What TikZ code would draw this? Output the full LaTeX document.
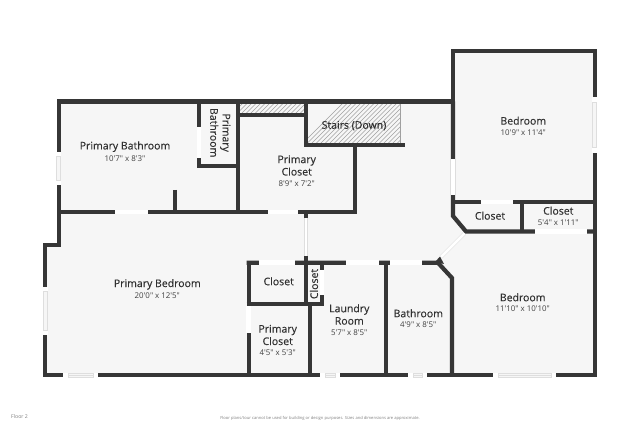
\documentclass[tikz,border=0pt]{standalone}
\usepackage{fontspec}
\newfontfamily\fp{Open Sans}
\newfontfamily\fpm[FakeBold=0.25]{Open Sans}
\definecolor{wallc}{HTML}{363636}
\definecolor{floorc}{HTML}{F6F6F6}
\definecolor{edgec}{HTML}{DEDEDE}
\definecolor{hatchc}{HTML}{A0A0A0}
\definecolor{textc}{HTML}{303030}
\definecolor{dimc}{HTML}{404040}
\tikzset{
  wall/.style={draw=wallc,line width=4.2pt,line join=miter},
  doorway/.style={draw=white,line width=4.8pt},
  swing/.style={draw=edgec,double=white,double distance=2.6pt,line width=.5pt},
  pane/.style={draw=edgec,fill=floorc,line width=.6pt},
  room/.style={font=\fpm\fontsize{10.5}{12.4}\selectfont,text=textc,align=center,inner sep=0pt},
  size/.style={font=\fp\fontsize{7.9}{9}\selectfont,text=dimc,align=center,inner sep=0pt},
  hatching/.style={draw=hatchc,line width=.6pt}
}
% horizontal window: x1 x2 y
\newcommand{\winH}[3]{%
  \fill[white] (#1,#3-2.5) rectangle (#2,#3+2.5);
  \draw[pane] (#1+5,#3-2) rectangle (#2-5,#3+2);
  \draw[edgec,line width=.5pt] (#1+5,#3) -- (#2-5,#3);}
% vertical window: y1 y2 x
\newcommand{\winV}[3]{%
  \fill[white] (#3-2.5,#1) rectangle (#3+2.5,#2);
  \draw[pane] (#3-2,#1+5) rectangle (#3+2,#2-5);}
\begin{document}
\begin{tikzpicture}[x=1pt,y=-1pt]
\useasboundingbox (0,0) rectangle (640,427);
\fill[white] (0,0) rectangle (640,427);
% floor
\fill[floorc] (58.7,101.5) -- (453,101.5) -- (453,51.3) -- (594.7,51.3) -- (594.7,375.3) -- (45.3,375.3) -- (45.3,245.3) -- (58.7,245.3) -- cycle;
% hatched areas
\begin{scope}
\clip (240,103) rectangle (304,113);
\foreach \i in {0,4.5,...,105} \draw[hatching] (230+\i,116) -- (230+\i+16,100);
\end{scope}
\begin{scope}
\clip (308,103) rectangle (400.7,143.5);
\foreach \i in {0,4.5,...,150} \draw[hatching] (300+\i,146) -- (300+\i+46,100);
\end{scope}
\draw[hatchc,line width=.6pt] (400.7,103) -- (400.7,143.5);
% walls
\draw[wall] (58.7,101.5) -- (453,101.5) -- (453,51.3) -- (594.7,51.3) -- (594.7,375.3) -- (45.3,375.3) -- (45.3,245.3) -- (58.7,245.3) -- cycle;
\draw[wall] (58.7,212) -- (355.2,212) -- (355.2,145.3);
\draw[wall] (306,145.3) -- (405,145.3);
\draw[wall] (306,101.5) -- (306,147.3);
\draw[wall] (238,101.5) -- (238,214);
\draw[wall] (238,114.7) -- (308,114.7);
\draw[wall] (199,101.5) -- (199,166) -- (240,166);
\draw[wall] (174.7,190) -- (174.7,212);
\draw[wall] (306,212) -- (306,218);
\draw[wall] (453,101.5) -- (453,216) -- (466,231.5) -- (594.7,231.5);
\draw[wall] (453,202) -- (594.7,202);
\draw[wall] (522,202) -- (522,231.5);
\draw[wall] (246.7,262.8) -- (438,262.8) -- (452,278) -- (452,375.3);
\draw[wall] (248.7,262.8) -- (248.7,375.3);
\draw[wall] (246.7,304) -- (324,304);
\draw[wall] (306,256) -- (306,304);
\draw[wall] (322,262.8) -- (322,304);
\draw[wall] (310,304) -- (310,375.3);
\draw[wall] (386,262.8) -- (386,375.3);
\fill[wallc] (435,262) -- (440,256.5) -- (444,264) -- cycle;
% doorways
\draw[doorway] (115,212) -- (148,212);
\draw[doorway] (199,126.7) -- (199,158.3);
\draw[doorway] (268.3,212) -- (297.7,212);
\draw[doorway] (453,159.3) -- (453,195);
\draw[doorway] (480.7,202) -- (512.7,202);
\draw[doorway] (535,231.5) -- (587.3,231.5);
\draw[doorway] (258.7,262.8) -- (295,262.8);
\draw[doorway] (346,262.8) -- (379.3,262.8);
\draw[doorway] (390,262.8) -- (422.3,262.8);
\draw[doorway] (322,270) -- (322,295);
\draw[doorway] (248.7,306.5) -- (248.7,333.3);
% door leaves
\draw[swing] (306,218) -- (306,256);
\draw[swing] (441,257) -- (464.5,233.5);
% windows
\winV{151.7}{185}{58.7}
\winV{286.7}{335}{45.3}
\winV{97.3}{152.7}{594.7}
\winH{63.3}{98.3}{375.3}
\winH{320}{340}{375.3}
\winH{408.3}{427.3}{375.3}
\winH{493.3}{556}{375.3}
% labels
\node[room] (bath) at (125,146.7) {Primary Bathroom};
\node[size] (bathd) at (125,158.6) {10'7" x 8'3"};
\node[room,rotate=-90] (pbath) at (220.3,132.7) {Primary\\Bathroom};
\node[room] (pcl) at (296.7,165.5) {Primary\\Closet};
\node[size] (pcld) at (296.7,183.7) {8'9" x 7'2"};
\node[room] (stairs) at (354,125.7) {Stairs (Down)};
\node[room] (bed1) at (523.3,120.7) {Bedroom};
\node[size] (bed1d) at (523.3,132.3) {10'9" x 11'4"};
\node[room] (cl1) at (490,215.7) {Closet};
\node[room] (cl2) at (558.3,210.7) {Closet};
\node[size] (cl2d) at (558.3,222.7) {5'4" x 1'11"};
\node[room] (pbed) at (157.3,284.3) {Primary Bedroom};
\node[size] (pbedd) at (157.3,296) {20'0" x 12'5"};
\node[room] (cl3) at (278.7,281.3) {Closet};
\node[room,rotate=90] (cl4) at (314,284) {Closet};
\node[room] (pcl2) at (277.7,335) {Primary\\Closet};
\node[size] (pcl2d) at (277.7,352.7) {4'5" x 5'3"};
\node[room] (lau) at (349.3,314.5) {Laundry\\Room};
\node[size] (laud) at (349.3,332.7) {5'7" x 8'5"};
\node[room] (bath2) at (418.3,313.3) {Bathroom};
\node[size] (bath2d) at (418.3,325) {4'9" x 8'5"};
\node[room] (bed2) at (522.7,297.3) {Bedroom};
\node[size] (bed2d) at (522.7,308.7) {11'10" x 10'10"};
\node[inner sep=0pt,text=gray,font=\fp\fontsize{5.2}{6}\selectfont] (floor) at (19.5,416.2) {Floor 2};
\node[inner sep=0pt,text=gray,font=\fp\fontsize{4.1}{5}\selectfont] (note) at (320,418.5) {Floor plans/tour cannot be used for building or design purposes. Sizes and dimensions are approximate.};
\end{tikzpicture}
\end{document}
